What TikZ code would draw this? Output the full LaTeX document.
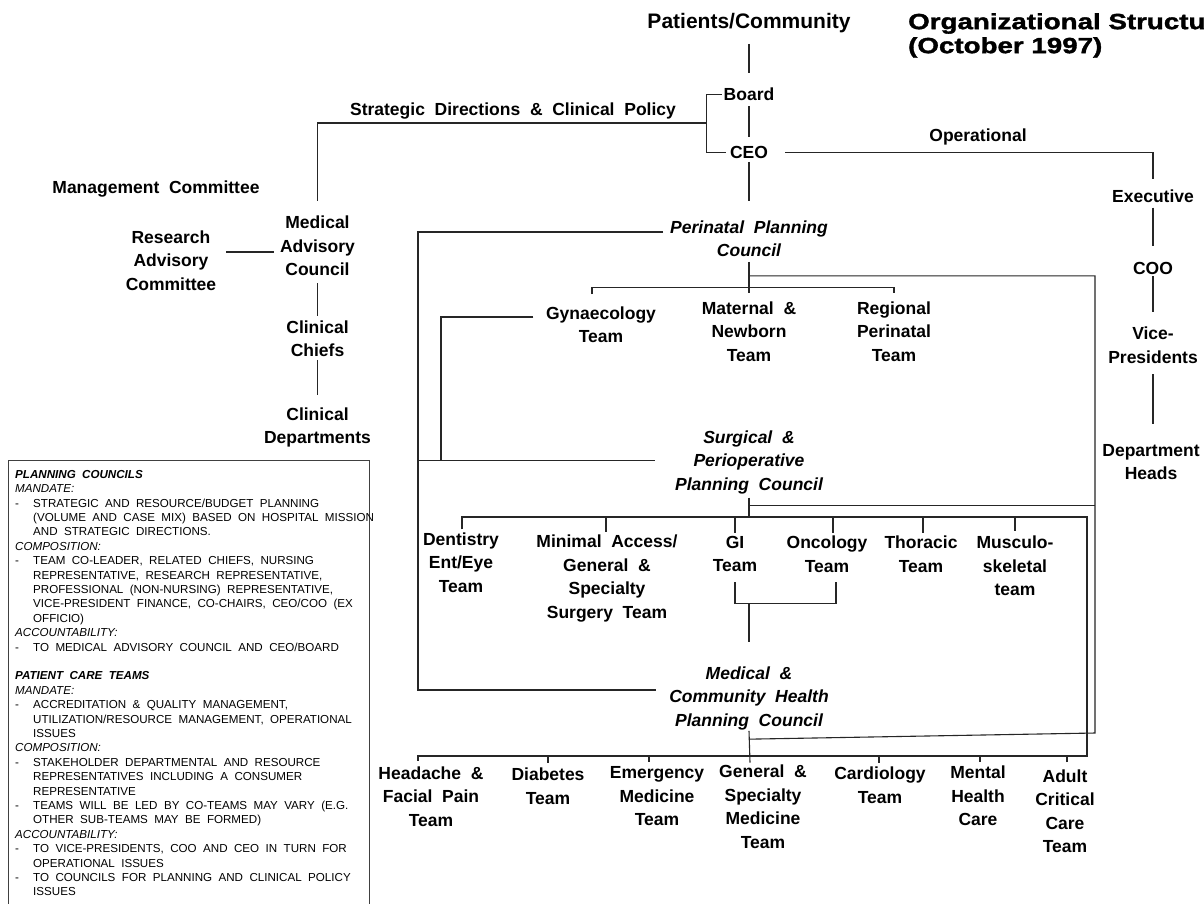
\documentclass[tikz,border=0pt]{standalone}
\usepackage{fontspec}
\setmainfont{Liberation Sans}[WordSpace=2]
\newfontfamily\titlefont{Liberation Sans}[FakeStretch=1.26,BoldFeatures={FakeBold=1.6}]
\usetikzlibrary{calc}
% hanging-indent helpers for the notes panel
\newcommand\dashline{\makebox[18pt][l]{-}}
\newcommand\contline{\makebox[18pt][l]{}}

\begin{document}
\begin{tikzpicture}[x=1pt,y=-1pt,
  lbl/.style={inner sep=0pt, align=center, font=\fontsize{17.5}{23.5}\selectfont\bfseries},
  council/.style={lbl, font=\fontsize{17.5}{23.5}\selectfont\bfseries\itshape},
  wire/.style={draw=black!85, line width=1.1pt},
  heavywire/.style={draw=black!85, line width=2.4pt},
]
\useasboundingbox (0,0) rectangle (1204,903);
\fill[white] (0,0) rectangle (1204,903);
\clip (0,0) rectangle (1204,903);

% ---------- governance ----------
\node[lbl, font=\fontsize{21}{25}\selectfont\bfseries] (pc) at (749,23) {Patients/Community};
\node[anchor=north west, inner sep=0pt, align=left,
      font=\titlefont\fontsize{22}{24}\selectfont\bfseries] (title) at (908,13)
      {Organizational Structure\\(October 1997)};
\node[lbl] (board) at (749,94.5) {Board};
\node[lbl] (ceo) at (749,152.5) {CEO};
\node[lbl] (strat) at (513,111) {Strategic Directions \& Clinical Policy};
\node[lbl] (oper) at (978,137) {Operational};

% ---------- operational chain ----------
\node[lbl] (exec) at (1153,196) {Executive};
\node[lbl] (coo) at (1153,268) {COO};
\node[lbl] (vp) at (1153,345) {Vice-\\Presidents};
\node[lbl] (dh) at (1151,462) {Department\\Heads};

% ---------- medical advisory chain ----------
\node[lbl] (mgmt) at (156,189.5) {Management Committee};
\node[lbl] (mac) at (317.5,246) {Medical\\Advisory\\Council};
\node[lbl] (rac) at (171,260.5) {Research\\Advisory\\Committee};
\node[lbl] (cc) at (317.5,338.5) {Clinical\\Chiefs};
\node[lbl] (cd) at (317.5,427.5) {Clinical\\Departments};

% ---------- perinatal council ----------
\node[council] (ppc) at (749,238.5) {Perinatal Planning\\Council};
\node[lbl] (gyn) at (601,324.5) {Gynaecology\\Team};
\node[lbl] (mnt) at (749,331.5) {Maternal \&\\Newborn\\Team};
\node[lbl] (rpt) at (894,331.5) {Regional\\Perinatal\\Team};

% ---------- surgical council ----------
\node[council] (spc) at (749,462.4) {Surgical \&\\Perioperative\\Planning Council};
\node[lbl] (dent) at (461,562.5) {Dentistry\\Ent/Eye\\Team};
\node[lbl] (mini) at (607,578.5) {Minimal Access/\\General \&\\Specialty\\Surgery Team};
\node[lbl] (gi) at (735,554) {GI\\Team};
\node[lbl] (onc) at (827,554) {Oncology\\Team};
\node[lbl] (thor) at (921,554) {Thoracic\\Team};
\node[lbl] (musc) at (1015,566) {Musculo-\\skeletal\\team};

% ---------- medical & community council ----------
\node[council] (mcpc) at (749,698) {Medical \&\\Community Health\\Planning Council};
\node[lbl] (head) at (431,796.5) {Headache \&\\Facial Pain\\Team};
\node[lbl] (diab) at (548,786) {Diabetes\\Team};
\node[lbl] (emer) at (657,796.5) {Emergency\\Medicine\\Team};
\node[lbl] (gen) at (763,806.5) {General \&\\Specialty\\Medicine\\Team};
\node[lbl] (card) at (880,785) {Cardiology\\Team};
\node[lbl] (ment) at (978,796) {Mental\\Health\\Care};
\node[lbl] (adult) at (1065,811) {Adult\\Critical\\Care\\Team};

% ---------- connectors: governance ----------
\draw[wire] ($(pc.south)+(0,11)$) -- ($(board.north)+(0,-15)$);
\draw[wire] ($(board.south)+(0,5)$) -- ($(ceo.north)+(0,-9)$);
\draw[wire] ($(ceo.south)+(0,3)$) -- ($(ppc.north)+(0,-19)$);
\draw[wire] ($(board.west)+(-2,0)$) -- ++(-15,0) |- ($(ceo.west)+(-4,0)$);
\coordinate (sj) at ($(board.west)+(-17,28.5)$);
\draw[wire] (sj) -| ($(mac.north)+(0,-15)$);
\draw[heavywire] (sj) -- ++(-29,0);

% ---------- connectors: operational ----------
\draw[wire] ($(ceo.east)+(17,0)$) -| ($(exec.north)+(0,-10)$);
\draw[wire] ($(exec.south)+(0,5)$) -- ($(coo.north)+(0,-16)$);
\draw[wire] ($(coo.south)+(0,2)$) -- ($(vp.north)+(0,-15)$);
\draw[wire] ($(vp.south)+(0,11)$) -- ($(dh.north -| vp.south)+(0,-20)$);

% ---------- connectors: medical advisory ----------
\draw[wire] ($(rac.east)+(10,-8.5)$) -- ($(mac.west |- rac.east)+(-5.5,-8.5)$);
\draw[wire] ($(mac.south)+(0,7)$) -- ($(cc.north)+(0,-4)$);
\draw[wire] ($(cc.south)+(0,3)$) -- ($(cd.north)+(0,-12)$);

% ---------- council links ----------
\coordinate (lb) at (418,690);
\coordinate (rb) at (1095,733);
\draw[wire] ($(ppc.west)+(-7,-6.5)$) -| (lb) -- ($(mcpc.west)+(-13,-8)$);
\draw[wire] ($(lb |- spc.west)+(0,-2)$) -- ($(spc.west)+(-20,-2)$);
\draw[wire] ($(gyn.west)+(-12.5,-7.5)$) -| ($(lb |- spc.west)+(23,-2)$);
\draw[wire] ($(ppc.south)+(0,19)$) -| (rb) -- ($(mcpc.south)+(0,9.3)$);
\draw[wire] ($(spc.south)+(0,11.3)$) -- ($(spc.south -| rb)+(0,11.3)$);

% ---------- perinatal teams ----------
\draw[wire] ($(ppc.south)+(0,5)$) -- ($(mnt.north)+(0,-8)$);
\draw[wire] ($(gyn.north)+(-9,-12)$) |- ($(rpt.north)+(0,-14)$) -- ($(rpt.north)+(0,-8)$);

% ---------- surgical teams ----------
\coordinate (sr) at (1087,517);
\coordinate (mb) at (0,756);
\draw[heavywire, line width=2pt] ($(spc.south)+(0,3.3)$) -- (spc.south |- sr);
\draw[wire] ($(dent.north)+(1,-3)$) |- (sr) -- (sr |- mb) -| ($(head.north)+(-13,-5)$);
\foreach \n/\dx/\dy in {mini/-1/-3, gi/0/-3, onc/6/-3, thor/2/-3, musc/0/-5}
  \draw[wire] ($(\n.north)+(\dx,\dy)$) -- ($(\n.north |- sr)+(\dx,0)$);
\draw[wire] ($(gi.south)+(0,10)$) -- ++(0,21) -| ($(onc.south)+(9,10)$);
\draw[wire] ($(mcpc.north |- gi.south)+(0,31)$) -- ($(mcpc.north)+(0,-24)$);

% ---------- medical teams ----------
\draw[wire] ($(mcpc.south)+(0,1)$) -- ($(gen.north)+(-13,-2)$);
\foreach \n/\dx/\dy in {diab/0/-5, emer/-8/-5, card/-1/-4, ment/2/-4, adult/2/-7}
  \draw[wire] ($(\n.north)+(\dx,\dy)$) -- ($(\n.north |- mb)+(\dx,0)$);

% ---------- notes panel ----------
\draw[draw=black!75, line width=1pt] (8,460) rectangle (369,920);
\node[anchor=north west, inner sep=0pt, align=left,
      font=\fontsize{11.6}{14.4}\selectfont] (notes) at (15,470) {%
\textbf{\textit{PLANNING COUNCILS}}\\
\textit{MANDATE:}\\
\dashline STRATEGIC AND RESOURCE/BUDGET PLANNING\\
\contline (VOLUME AND CASE MIX) BASED ON HOSPITAL MISSION\\
\contline AND STRATEGIC DIRECTIONS.\\
\textit{COMPOSITION:}\\
\dashline TEAM CO-LEADER, RELATED CHIEFS, NURSING\\
\contline REPRESENTATIVE, RESEARCH REPRESENTATIVE,\\
\contline PROFESSIONAL (NON-NURSING) REPRESENTATIVE,\\
\contline VICE-PRESIDENT FINANCE, CO-CHAIRS, CEO/COO (EX\\
\contline OFFICIO)\\
\textit{ACCOUNTABILITY:}\\
\dashline TO MEDICAL ADVISORY COUNCIL AND CEO/BOARD\\[14.4pt]
\textbf{\textit{PATIENT CARE TEAMS}}\\
\textit{MANDATE:}\\
\dashline ACCREDITATION \& QUALITY MANAGEMENT,\\
\contline UTILIZATION/RESOURCE MANAGEMENT, OPERATIONAL\\
\contline ISSUES\\
\textit{COMPOSITION:}\\
\dashline STAKEHOLDER DEPARTMENTAL AND RESOURCE\\
\contline REPRESENTATIVES INCLUDING A CONSUMER\\
\contline REPRESENTATIVE\\
\dashline TEAMS WILL BE LED BY CO-TEAMS MAY VARY (E.G.\\
\contline OTHER SUB-TEAMS MAY BE FORMED)\\
\textit{ACCOUNTABILITY:}\\
\dashline TO VICE-PRESIDENTS, COO AND CEO IN TURN FOR\\
\contline OPERATIONAL ISSUES\\
\dashline TO COUNCILS FOR PLANNING AND CLINICAL POLICY\\
\contline ISSUES};
\end{tikzpicture}
\end{document}
